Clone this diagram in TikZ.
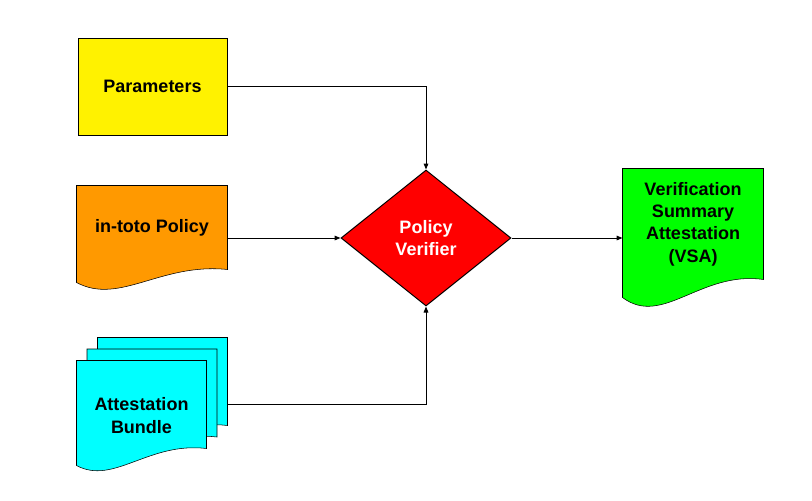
\documentclass[tikz,border=0pt]{standalone}
\usepackage{fontspec}
\setmainfont{Liberation Sans}
\usetikzlibrary{shapes.geometric,arrows.meta,backgrounds,fit}

\definecolor{docorange}{RGB}{255,153,0}
\definecolor{doccyan}{RGB}{0,255,255}
\definecolor{docgreen}{RGB}{0,255,0}

\tikzset{every picture/.style={line width=0.75pt}}
\tikzset{
  labelfont/.style={font=\bfseries\fontsize{13.5}{16.7}\selectfont, align=center},
  box/.style={draw, labelfont, inner sep=0.75pt},
  page/.style={labelfont, inner sep=0.75pt},
  link/.style={-{Triangle[length=4.5pt,width=3.5pt]}},
}

\begin{document}
\begin{tikzpicture}[x=0.75pt,y=0.75pt,yscale=-1,xscale=1]
\path[use as bounding box] (0,0) rectangle (812,500);

% Parameters
\node[box, fill=yellow, minimum width=111.75pt, minimum height=72.75pt] (par) at (152.5,86.5) {Parameters};
% in-toto Policy
\node[page, minimum width=112.5pt, minimum height=62.25pt] (pol) at (152,227.5) {in-toto Policy};
% Attestation Bundle (three pages)
\node[page, minimum width=96.75pt, minimum height=81.75pt] (attback) at (162.5,392.5) {};
\node[page, minimum width=96.75pt, minimum height=81.75pt] (attmid) at (152,404) {};
\node[page, minimum width=96.75pt, minimum height=81.75pt] (att) at (141.5,415.5) {Attestation\\Bundle};
\node[fit=(attback.north east)(att.south west), inner sep=0pt] (bundle) {};
% Policy Verifier
\node[diamond, draw, fill=red, text=white, labelfont, inner sep=0pt, minimum width=127.5pt, minimum height=102pt] (ver) at (426,238) {Policy\\Verifier};
% Verification Summary Attestation
\node[page, minimum width=105pt, minimum height=82.5pt] (vsa) at (693,224) {Verification\\Summary\\Attestation\\(VSA)};

% Page outlines
\begin{scope}[on background layer]
\draw[fill=docorange] (pol.north west) -- (pol.north east) -- (pol.south east) .. controls +(-67,-7) and +(43,23) .. ([shift={(0,13)}]pol.south west) -- cycle;
\draw[fill=doccyan] (attback.north west) -- (attback.north east) -- ([shift={(0,-22)}]attback.south east) .. controls +(-58,-7) and +(37,20) .. ([shift={(0,-5)}]attback.south west) -- cycle;
\draw[fill=doccyan] (attmid.north west) -- (attmid.north east) -- ([shift={(0,-22)}]attmid.south east) .. controls +(-58,-7) and +(37,20) .. ([shift={(0,-5)}]attmid.south west) -- cycle;
\draw[fill=doccyan] (att.north west) -- (att.north east) -- ([shift={(0,-22)}]att.south east) .. controls +(-58,-7) and +(37,20) .. ([shift={(0,-5)}]att.south west) -- cycle;
\draw[fill=docgreen] (vsa.north west) -- (vsa.north east) -- (vsa.south east) .. controls +(-63,-9) and +(40,30) .. ([shift={(0,18)}]vsa.south west) -- cycle;
\end{scope}

% Connections
\draw[link] (par.east) -| (ver.north);
\draw[link] (ver.west -| pol.east) -- (ver.west);
\draw[link] (bundle.east) -| (ver.south);
\draw[link] (ver.east) -- (ver.east -| vsa.west);

\end{tikzpicture}
\end{document}
